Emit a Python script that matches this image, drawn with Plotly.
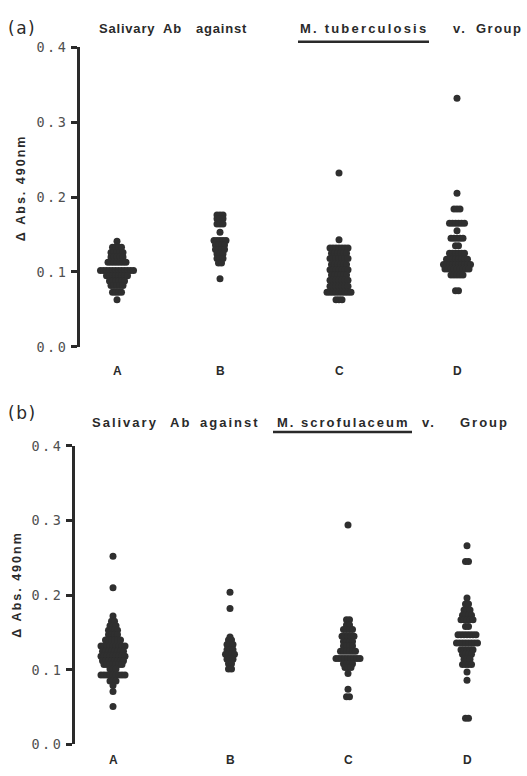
import plotly.graph_objects as go

W, H = 527, 776

# ---------------- data ----------------
categories = ["A", "B", "C", "D"]
y_tick_vals = [0.0, 0.1, 0.2, 0.3, 0.4]
y_tick_labels = ["0.0", "0.1", "0.2", "0.3", "0.4"]
y_title = "Δ Abs. 490nm"
title_a_words = ["Salivary", "Ab", "against", "M. tuberculosis", "v.", "Group"]
title_b_words = ["Salivary", "Ab", "against", "M. scrofulaceum", "v.", "Group"]

# Panel (a): Salivary Ab against M. tuberculosis — value levels and number of subjects at each level
a_A_vals = [0.141, 0.133, 0.126, 0.120, 0.113, 0.102, 0.095, 0.088, 0.082, 0.073, 0.063]
a_A_counts = [1, 4, 5, 5, 7, 12, 8, 6, 5, 4, 1]
a_B_vals = [0.176, 0.171, 0.164, 0.153, 0.142, 0.136, 0.130, 0.124, 0.118, 0.112, 0.091]
a_B_counts = [3, 3, 3, 1, 5, 4, 4, 3, 3, 2, 1]
a_C_vals = [0.232, 0.143, 0.132, 0.125, 0.118, 0.110, 0.103, 0.096, 0.089, 0.081, 0.073, 0.063]
a_C_counts = [1, 1, 7, 6, 7, 6, 7, 6, 7, 7, 9, 3]
a_D_vals = [0.332, 0.205, 0.184, 0.165, 0.155, 0.145, 0.135, 0.125, 0.117, 0.110, 0.104, 0.096, 0.075]
a_D_counts = [1, 1, 3, 6, 1, 5, 2, 6, 8, 10, 9, 5, 2]

# Panel (b): Salivary Ab against M. scrofulaceum
b_A_vals = [0.252, 0.210, 0.172, 0.165, 0.159, 0.153, 0.147, 0.140, 0.132, 0.125, 0.118, 0.112,
            0.107, 0.101, 0.093, 0.085, 0.079, 0.071, 0.051]
b_A_counts = [1, 1, 1, 2, 3, 4, 4, 6, 9, 8, 9, 8, 7, 3, 9, 3, 1, 1, 1]
b_B_vals = [0.204, 0.182, 0.144, 0.140, 0.134, 0.127, 0.121, 0.114, 0.108, 0.101]
b_B_counts = [1, 1, 1, 2, 3, 3, 4, 3, 2, 2]
b_C_vals = [0.294, 0.167, 0.160, 0.154, 0.145, 0.138, 0.132, 0.125, 0.115, 0.108, 0.103, 0.095, 0.074, 0.064]
b_C_counts = [1, 2, 2, 4, 5, 4, 4, 6, 9, 4, 3, 1, 1, 2]
b_D_vals = [0.266, 0.245, 0.196, 0.188, 0.180, 0.173, 0.167, 0.158, 0.147, 0.136, 0.127, 0.121,
            0.114, 0.107, 0.097, 0.086, 0.035]
b_D_counts = [1, 2, 1, 2, 3, 4, 5, 2, 7, 8, 5, 4, 3, 4, 1, 1, 2]

# ---------------- layout constants ----------------
def px(x):
    return x / W


def py(y):
    return 1 - y / H


DOT = 7            # marker diameter (px)
DOT_STEP_PX = 3    # horizontal spacing of tied points (px)
DOT_COLOR = "#2f2f2f"
INK = "#2a2a2a"

panels = {
    "a": dict(axis_x=80, y0=346, y1=40, cat_px=[117, 220, 339, 457], label_y=371,
              groups=[(a_A_vals, a_A_counts), (a_B_vals, a_B_counts),
                      (a_C_vals, a_C_counts), (a_D_vals, a_D_counts)],
              tag="(a)", tag_y=20, words=title_a_words,
              word_cx=[127, 172, 221, 364, 460, 499], word_ls=[0.8, 0.8, 0.8, 2.2, 2, 1.5],
              title_y=21, ul=(298, 429, 34.5), ytitle=(21, 184)),
    "b": dict(axis_x=75, y0=752, y1=447, cat_px=[113, 230, 348, 467], label_y=768,
              groups=[(b_A_vals, b_A_counts), (b_B_vals, b_B_counts),
                      (b_C_vals, b_C_counts), (b_D_vals, b_D_counts)],
              tag="(b)", tag_y=414, words=title_b_words,
              word_cx=[125, 180, 230, 343, 429, 484], word_ls=[2, 2, 2, 2, 2, 2],
              title_y=423, ul=(273, 412, 433), ytitle=(17, 589)),
}


def spread(vals, counts, center, step):
    xs, ys = [], []
    for v, n in zip(vals, counts):
        for i in range(n):
            xs.append(center + (i - (n - 1) / 2) * step)
            ys.append(v)
    return xs, ys


fig = go.Figure()
layout = dict(width=W, height=H, margin=dict(l=0, r=0, t=0, b=0),
              paper_bgcolor="white", plot_bgcolor="white", showlegend=False)
annotations, shapes = [], []

for k, (key, p) in enumerate(panels.items()):
    xa = "xaxis" if k == 0 else "xaxis2"
    ya = "yaxis" if k == 0 else "yaxis2"
    xr = "x" if k == 0 else "x2"
    yr = "y" if k == 0 else "y2"
    # category positions in axis units (A = 0), scale = px per unit
    unit = (p["cat_px"][-1] - p["cat_px"][0]) / (len(categories) - 1)
    cat_pos = [(c - p["cat_px"][0]) / unit for c in p["cat_px"]]
    step = DOT_STEP_PX / unit
    for (vals, counts), c in zip(p["groups"], cat_pos):
        xs, ys = spread(vals, counts, c, step)
        fig.add_trace(go.Scatter(x=xs, y=ys, mode="markers", xaxis=xr, yaxis=yr,
                                 marker=dict(size=DOT, color=DOT_COLOR, line=dict(width=0)),
                                 hoverinfo="skip"))
    layout[xa] = dict(domain=[px(p["axis_x"]), 1],
                      range=[(p["axis_x"] - p["cat_px"][0]) / unit, (W - p["cat_px"][0]) / unit],
                      visible=False, anchor=yr, fixedrange=True)
    layout[ya] = dict(domain=[py(p["y0"]), py(p["y1"])], range=[0, 0.4], anchor=xr,
                      tickvals=y_tick_vals,
                      ticktext=['<span style="letter-spacing:2.5px">%s</span>' % t for t in y_tick_labels],
                      ticks="outside", ticklen=6, tickwidth=2.5, tickcolor=INK,
                      showline=True, linewidth=3, linecolor=INK, showgrid=False, zeroline=False,
                      tickfont=dict(family="DejaVu Sans Mono", size=13.5, color="#505050"),
                      fixedrange=True)
    # category labels
    for name, c in zip(categories, cat_pos):
        annotations.append(dict(x=c, y=py(p["label_y"]), xref=xr, yref="paper", text="<b>%s</b>" % name,
                                showarrow=False, xanchor="center", yanchor="middle",
                                font=dict(family="Liberation Sans", size=12, color=INK)))
    # panel tag
    annotations.append(dict(x=px(6), y=py(p["tag_y"]), xref="paper", yref="paper",
                            text='<span style="letter-spacing:1.5px">%s</span>' % p["tag"],
                            showarrow=False, xanchor="left", yanchor="middle",
                            font=dict(family="DejaVu Sans", size=17, color=INK)))
    # title words
    for wtxt, cx, ls in zip(p["words"], p["word_cx"], p["word_ls"]):
        annotations.append(dict(x=px(cx), y=py(p["title_y"]), xref="paper", yref="paper",
                                text='<span style="letter-spacing:%spx"><b>%s</b></span>' % (ls, wtxt),
                                showarrow=False, xanchor="center", yanchor="middle",
                                font=dict(family="Liberation Sans", size=13, color=INK)))
    # underline of species name
    x0, x1, yy = p["ul"]
    shapes.append(dict(type="line", xref="paper", yref="paper", x0=px(x0), x1=px(x1),
                       y0=py(yy), y1=py(yy), line=dict(color=INK, width=2.5)))
    # y title
    tx, ty = p["ytitle"]
    annotations.append(dict(x=px(tx), y=py(ty), xref="paper", yref="paper",
                            text='<span style="letter-spacing:2px"><b>%s</b></span>' % y_title,
                            textangle=-90, showarrow=False, xanchor="center", yanchor="middle",
                            font=dict(family="Liberation Sans", size=12.5, color=INK)))

layout["annotations"] = annotations
layout["shapes"] = shapes
fig.update_layout(**layout)
fig.write_html("out.html")
